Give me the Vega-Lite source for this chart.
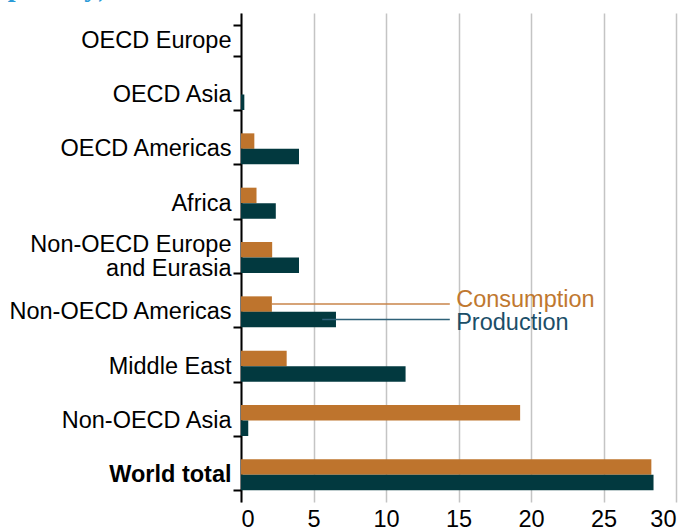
{
  "$schema": "https://vega.github.io/schema/vega-lite/v6.json",
  "autosize": "none",
  "width": 435,
  "height": 489,
  "padding": {"left": 241, "top": 13, "right": 15, "bottom": 29},
  "background": "white",
  "title": {
    "text": "per day)",
    "anchor": "start",
    "frame": "bounds",
    "font": "Liberation Serif",
    "fontSize": 28,
    "fontWeight": "bold",
    "color": "#2B9BD8",
    "baseline": "alphabetic",
    "offset": -23
  },
  "config": {
    "view": {"stroke": null},
    "font": "Liberation Sans"
  },
  "datasets": {
    "bars": [
      {"region": "OECD Europe", "type": "Consumption", "value": 0},
      {"region": "OECD Europe", "type": "Production", "value": 0},
      {"region": "OECD Asia", "type": "Consumption", "value": 0},
      {"region": "OECD Asia", "type": "Production", "value": 0.23},
      {"region": "OECD Americas", "type": "Consumption", "value": 0.92},
      {"region": "OECD Americas", "type": "Production", "value": 4.0},
      {"region": "Africa", "type": "Consumption", "value": 1.07},
      {"region": "Africa", "type": "Production", "value": 2.4},
      {"region": "Non-OECD Europe and Eurasia", "type": "Consumption", "value": 2.15},
      {"region": "Non-OECD Europe and Eurasia", "type": "Production", "value": 4.0},
      {"region": "Non-OECD Americas", "type": "Consumption", "value": 2.13},
      {"region": "Non-OECD Americas", "type": "Production", "value": 6.55},
      {"region": "Middle East", "type": "Consumption", "value": 3.15},
      {"region": "Middle East", "type": "Production", "value": 11.35},
      {"region": "Non-OECD Asia", "type": "Consumption", "value": 19.25},
      {"region": "Non-OECD Asia", "type": "Production", "value": 0.5},
      {"region": "World total", "type": "Consumption", "value": 28.3},
      {"region": "World total", "type": "Production", "value": 28.45}
    ],
    "notes": [
      {"region": "Non-OECD Americas", "type": "Consumption", "start": 2.13, "end": 14.4, "textx": 14.84, "label": "Consumption"},
      {"region": "Non-OECD Americas", "type": "Production", "start": 5.6, "end": 14.4, "textx": 14.84, "label": "Production"}
    ]
  },
  "encoding": {
    "y": {
      "field": "region",
      "type": "nominal",
      "sort": ["OECD Europe", "OECD Asia", "OECD Americas", "Africa", "Non-OECD Europe and Eurasia", "Non-OECD Americas", "Middle East", "Non-OECD Asia", "World total"],
      "scale": {"paddingInner": 0.43, "paddingOuter": 0.215},
      "axis": {
        "title": null,
        "tickBand": "extent",
        "domainColor": "#000000",
        "domainWidth": 2,
        "tickColor": "#000000",
        "tickWidth": 2,
        "tickSize": 8,
        "labelPadding": 2,
        "labelFontSize": 23.5,
        "labelColor": "#000000",
        "labelLineHeight": 24,
        "labelLimit": 300,
        "labelOffset": {"condition": {"test": "datum.value == 'Non-OECD Europe and Eurasia'", "value": -13}, "value": 0},
        "labelFontWeight": {"condition": {"test": "datum.value == 'World total'", "value": "bold"}, "value": "normal"},
        "labelExpr": "datum.value == 'Non-OECD Europe and Eurasia' ? ['Non-OECD Europe', 'and Eurasia'] : datum.value",
        "grid": false
      }
    },
    "yOffset": {
      "field": "type",
      "type": "nominal",
      "sort": ["Consumption", "Production"],
      "scale": {"paddingInner": 0, "paddingOuter": 0}
    }
  },
  "layer": [
    {
      "data": {"name": "bars"},
      "mark": {"type": "bar"},
      "encoding": {
        "x": {
          "field": "value",
          "type": "quantitative",
          "scale": {"domain": [0, 30], "nice": false},
          "axis": {
            "title": null,
            "values": [0, 5, 10, 15, 20, 25, 30],
            "domain": false,
            "ticks": false,
            "labelPadding": 5,
            "labelFontSize": 23.5,
            "labelColor": "#000000",
            "grid": true,
            "gridColor": "#C4C4C4",
            "gridWidth": 1.5
          }
        },
        "color": {
          "field": "type",
          "type": "nominal",
          "scale": {"domain": ["Consumption", "Production"], "range": ["#BE742D", "#02393F"]},
          "legend": null
        }
      }
    },
    {
      "data": {"name": "notes"},
      "mark": {"type": "rule", "strokeWidth": 1.5},
      "encoding": {
        "x": {"field": "start", "type": "quantitative"},
        "x2": {"field": "end"},
        "color": {"condition": {"test": "datum.type == 'Consumption'", "value": "#C8844A"}, "value": "#2E6178"}
      }
    },
    {
      "data": {"name": "notes"},
      "transform": [{"filter": "datum.type == 'Consumption'"}],
      "mark": {"type": "text", "align": "left", "baseline": "middle", "fontSize": 23.5, "dy": -4, "color": "#C0782F"},
      "encoding": {
        "x": {"field": "textx", "type": "quantitative"},
        "text": {"field": "label"}
      }
    },
    {
      "data": {"name": "notes"},
      "transform": [{"filter": "datum.type == 'Production'"}],
      "mark": {"type": "text", "align": "left", "baseline": "middle", "fontSize": 23.5, "dy": 3, "color": "#1B4E68"},
      "encoding": {
        "x": {"field": "textx", "type": "quantitative"},
        "text": {"field": "label"}
      }
    }
  ]
}
